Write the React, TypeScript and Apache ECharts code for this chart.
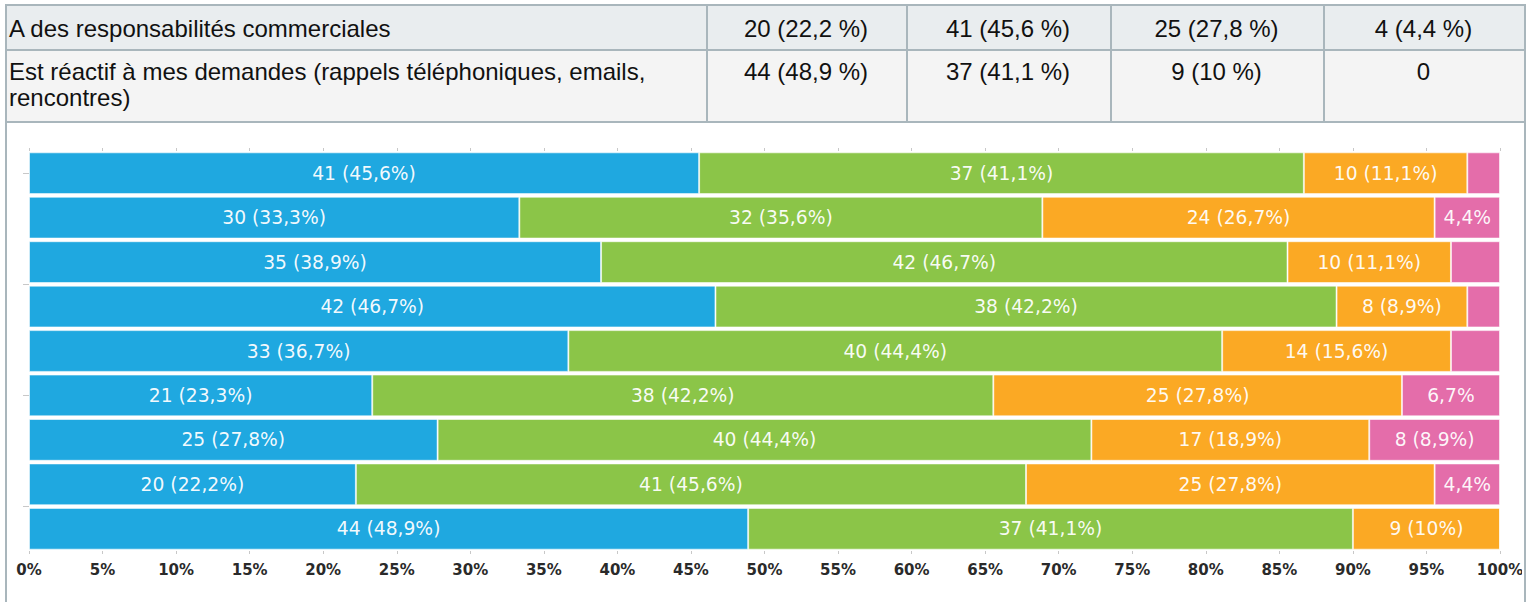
import React, { useEffect, useRef } from "react";
import * as echarts from "echarts";

// ---------- DATA ----------
const categories = [
  "Énoncé 1",
  "Énoncé 2",
  "Énoncé 3",
  "Énoncé 4",
  "Énoncé 5",
  "Énoncé 6",
  "Énoncé 7",
  "A des responsabilités commerciales",
  "Est réactif à mes demandes (rappels téléphoniques, emails, rencontres)",
];
const seriesNames = ["Réponse 1", "Réponse 2", "Réponse 3", "Réponse 4"];
const blueCounts = [41, 30, 35, 42, 33, 21, 25, 20, 44];
const greenCounts = [37, 32, 42, 38, 40, 38, 40, 41, 37];
const orangeCounts = [10, 24, 10, 8, 14, 25, 17, 25, 9];
const pinkCounts = [2, 4, 3, 2, 3, 6, 8, 4, 0];
const seriesColors = ["#1fa8e0", "#8bc548", "#fba924", "#e46daa"];
const tableRows = [7, 8];
const tableLabels = [
  ["A des responsabilités commerciales"],
  ["Est réactif à mes demandes (rappels téléphoniques, emails,", "rencontres)"],
];
const yTickRows = [1, 3.5, 6, 8.5];

const allCounts = [blueCounts, greenCounts, orangeCounts, pinkCounts];
const totals = categories.map((_, i) => allCounts.reduce((s, a) => s + a[i], 0));
const fmt = (p: number) => String(Math.round(p * 10) / 10).replace(".", ",");
const pct = (c: number, i: number) => (c / totals[i]) * 100;

const colLefts = [706, 906, 1110, 1323];
const colRights = [906, 1110, 1323, 1524];
const BORDER = "#a9b6bc";

function TableCellText({ text, left, width, top, align }: any) {
  return (
    <div
      style={{
        position: "absolute",
        left,
        width,
        top,
        textAlign: align,
        fontFamily: "'Liberation Sans', Arial, sans-serif",
        fontSize: 24,
        lineHeight: "26px",
        color: "#111",
        whiteSpace: "nowrap",
      }}
    >
      {text.map((t: string, k: number) => (
        <div key={k}>{t}</div>
      ))}
    </div>
  );
}

export default function App() {
  const ref = useRef<HTMLDivElement>(null);

  useEffect(() => {
    if (!ref.current) return;
    const chart = echarts.init(ref.current, undefined, { renderer: "svg" });
    const series = allCounts.map((counts, si) => ({
      name: seriesNames[si],
      type: "bar",
      stack: "total",
      barCategoryGap: "6%",
      data: counts.map((c, i) => pct(c, i)),
      itemStyle: {
        color: seriesColors[si],
        borderColor: "rgba(255,255,255,0.55)",
        borderWidth: 1,
      },
      label: {
        show: true,
        position: "inside",
        color: "rgba(255,255,255,0.95)",
        fontFamily: "'DejaVu Sans', sans-serif",
        fontSize: 18.7,
        formatter: (p: any) => {
          const c = counts[p.dataIndex];
          const v = pct(c, p.dataIndex);
          if (v >= 8) return `${c} (${fmt(v)}%)`;
          if (v >= 4) return `${fmt(v)}%`;
          return "";
        },
      },
    }));
    chart.setOption({
      animation: false,
      backgroundColor: "transparent",
      grid: { left: 29, right: 22, top: 29, bottom: 51, outerBoundsMode: "none", containLabel: false },
      xAxis: [
        {
          type: "value",
          position: "bottom",
          min: 0,
          max: 100,
          interval: 5,
          axisLine: { show: false },
          splitLine: { show: false },
          axisTick: { show: true, length: 3, lineStyle: { color: "#c8c8c8" } },
          axisLabel: {
            formatter: "{value}%",
            fontFamily: "'DejaVu Sans', sans-serif",
            fontWeight: "bold",
            fontSize: 15,
            color: "#2a2a2a",
            margin: 11,
          },
        },
        {
          type: "value",
          position: "top",
          min: 0,
          max: 100,
          interval: 5,
          axisLine: { show: false },
          splitLine: { show: false },
          axisTick: { show: true, length: 3, lineStyle: { color: "#c8c8c8" } },
          axisLabel: { show: false },
        },
      ],
      yAxis: [
        {
          type: "category",
          inverse: true,
          data: categories,
          axisLine: { show: false },
          axisTick: { show: false },
          axisLabel: { show: false },
        },
        {
          type: "value",
          position: "left",
          min: 0,
          max: categories.length,
          offset: 2,
          axisLine: { show: false },
          splitLine: { show: false },
          axisLabel: { show: false },
          axisTick: {
            show: true,
            length: 6,
            lineStyle: { color: "#c8c8c8" },
            customValues: yTickRows,
          },
        },
      ],
      series,
    });
    return () => chart.dispose();
  }, []);

  const hLine = (top: number, left: number, width: number) => (
    <div style={{ position: "absolute", left, top, width, height: 1.5, background: BORDER }} />
  );
  const vLine = (left: number, top: number, height: number) => (
    <div style={{ position: "absolute", left, top, width: 1.5, height, background: BORDER }} />
  );

  return (
    <div
      style={{
        position: "fixed",
        left: 0,
        top: 0,
        width: 1526,
        height: 602,
        background: "#fff",
        overflow: "hidden",
      }}
    >
      <div style={{ position: "absolute", left: 6, top: 5, width: 1518, height: 45, background: "#e9edef" }} />
      <div style={{ position: "absolute", left: 6, top: 50, width: 1518, height: 72, background: "#f4f4f4" }} />
      <div
        ref={ref}
        style={{ position: "absolute", left: 0, top: 122, width: 1522, height: 480 }}
      />
      {hLine(4, 5, 1521)}
      {hLine(49, 5, 1521)}
      {hLine(121, 5, 1521)}
      {vLine(5, 4, 600)}
      {vLine(1524, 4, 600)}
      {colLefts.map((x) => (
        <React.Fragment key={x}>{vLine(x, 4, 118)}</React.Fragment>
      ))}
      {tableRows.map((ri, r) => {
        const top = r === 0 ? 16 : 59;
        const cells = allCounts.map((a) => {
          const c = a[ri];
          return c === 0 ? "0" : `${c} (${fmt(pct(c, ri))} %)`;
        });
        return (
          <React.Fragment key={ri}>
            <TableCellText text={tableLabels[r]} left={9} width={690} top={top} align="left" />
            {cells.map((t, k) => (
              <TableCellText
                key={k}
                text={[t]}
                left={colLefts[k]}
                width={colRights[k] - colLefts[k]}
                top={top}
                align="center"
              />
            ))}
          </React.Fragment>
        );
      })}
    </div>
  );
}
